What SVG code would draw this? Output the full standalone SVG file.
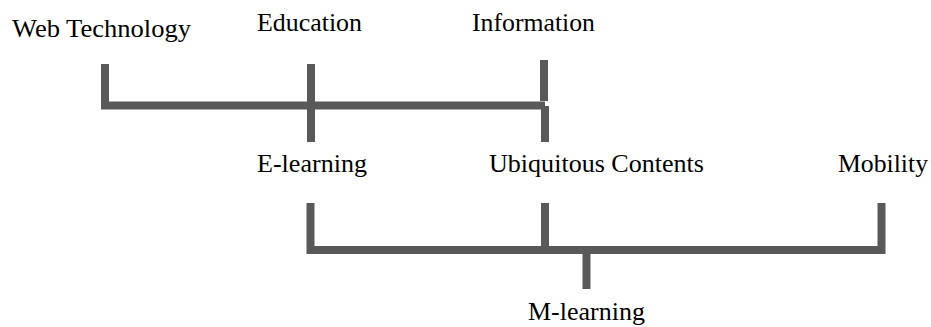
<svg xmlns="http://www.w3.org/2000/svg" width="931" height="327" viewBox="0 0 931 327">
<style>
text{font-family:"Liberation Serif","Times New Roman",serif;font-size:26px;fill:#000}
.c{fill:none;stroke:#595959;stroke-width:8;stroke-linecap:butt;stroke-linejoin:miter}
</style>
<rect width="931" height="327" fill="#fff"/>
<g id="connectors">
<path class="c" d="M105,64 V105.5 H545"/>
<path class="c" d="M311,64 V142"/>
<path class="c" d="M544,60 V101"/>
<path class="c" d="M545,106 V142"/>
<path class="c" d="M310.5,203 V250 H881.5 V203"/>
<path class="c" d="M545,203 V250"/>
<path class="c" d="M586.5,250 V289"/>
</g>
<g id="web-technology"><text x="12" y="37" textLength="179" lengthAdjust="spacingAndGlyphs">Web Technology</text></g>
<g id="education"><text x="257" y="31" textLength="105" lengthAdjust="spacingAndGlyphs">Education</text></g>
<g id="information"><text x="472" y="31" textLength="123" lengthAdjust="spacingAndGlyphs">Information</text></g>
<g id="e-learning"><text x="257" y="172" textLength="110" lengthAdjust="spacingAndGlyphs">E-learning</text></g>
<g id="ubiquitous-contents"><text x="489" y="172" textLength="215" lengthAdjust="spacingAndGlyphs">Ubiquitous Contents</text></g>
<g id="mobility"><text x="838" y="172" textLength="90" lengthAdjust="spacingAndGlyphs">Mobility</text></g>
<g id="m-learning"><text x="528" y="320" textLength="117" lengthAdjust="spacingAndGlyphs">M-learning</text></g>
</svg>
